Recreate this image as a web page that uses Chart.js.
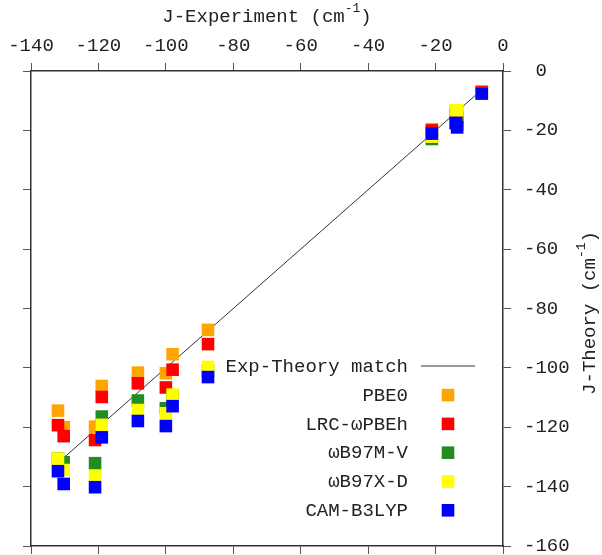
<!DOCTYPE html>
<html>
<head>
<meta charset="utf-8">
<script src="https://cdn.jsdelivr.net/npm/chart.js@4.4.0/dist/chart.umd.min.js"></script>
<style>
  html, body { margin: 0; padding: 0; background: #fff; }
  #wrap { width: 602px; height: 555px; }
</style>
</head>
<body>
<div id="wrap"><canvas id="myChart" width="602" height="555"></canvas></div>
<script>
// experimental couplings (cm-1), one per pair of centres
const expValues = [-132, -130.3, -121, -119, -108.3, -100, -98, -87.5, -21.1, -14, -13.6, -6.3];
// computed couplings, same order as expValues
const pbe0    = [-114.4, -120.0, -119.8, -106.1, -101.6, -101.8, -95.4, -87.2, -19.6, -13.5, -13.5, -6.8];
const lrcPbeh = [-119.3, -123.0, -124.3, -109.8, -105.2, -106.6, -100.6, -92.0, -20.0, -14.5, -15.8, -7.2];
const wb97mv  = [-130.6, -131.8, -132.1, -116.4, -111.0, -113.6, -109.5, -101.0, -22.9, -17.5, -18.0, -7.6];
const wb97xd  = [-130.6, -134.4, -136.4, -119.2, -114.2, -115.3, -109.0, -99.7, -22.1, -13.2, -13.2, -7.6];
const camB3   = [-134.8, -139.1, -140.2, -123.4, -117.9, -119.6, -112.9, -103.1, -21.1, -17.5, -19.0, -7.6];

const methodNames = ["PBE0", "LRC-\u03c9PBEh", "\u03c9B97M-V", "\u03c9B97X-D", "CAM-B3LYP"];
const methodValues = [pbe0, lrcPbeh, wb97mv, wb97xd, camB3];
const methodColors = ["#ffa500", "#ff0000", "#228b22", "#ffff00", "#0000ff"];

const xTickValues = [-140, -120, -100, -80, -60, -40, -20, 0];
const yTickValues = [0, -20, -40, -60, -80, -100, -120, -140, -160];

const FONT = "'Liberation Mono', 'DejaVu Sans Mono', monospace";
const TEXT = "#222";

function points(ys) {
    return expValues.map((x, i) => ({ x: x, y: ys[i] }));
}

const lo = Math.min(...expValues);
const hi = Math.max(...expValues);

const datasets = [{
    label: "Exp-Theory match",
    data: [{ x: lo, y: lo }, { x: hi, y: hi }],
    showLine: true,
    borderColor: "#333",
    borderWidth: 1,
    pointRadius: 0,
    order: 10,
}];
methodNames.forEach((name, i) => {
    datasets.push({
        label: name,
        data: points(methodValues[i]),
        backgroundColor: methodColors[i],
        borderWidth: 0,
        pointStyle: "rect",
        pointRadius: 8.9,
        pointHoverRadius: 8.9,
        order: 5 - i,
    });
});

function drawTitle(ctx, x, y, rot, main, sup, tail) {
    ctx.save();
    ctx.translate(x, y);
    ctx.rotate(rot);
    ctx.fillStyle = TEXT;
    ctx.textBaseline = "middle";
    ctx.textAlign = "left";
    ctx.font = "19px " + FONT;
    const w1 = ctx.measureText(main).width;
    const w3 = ctx.measureText(tail).width;
    ctx.font = "13px " + FONT;
    const w2 = ctx.measureText(sup).width;
    let sx = -(w1 + w2 + w3) / 2;
    ctx.font = "19px " + FONT;
    ctx.fillText(main, sx, 0);
    sx += w1;
    ctx.font = "13px " + FONT;
    ctx.fillText(sup, sx, -8);
    sx += w2;
    ctx.font = "19px " + FONT;
    ctx.fillText(tail, sx, 0);
    ctx.restore();
}

const extras = {
    id: "extras",
    afterDraw(chart) {
        const ctx = chart.ctx;
        drawTitle(ctx, 267, 17, 0, "J-Experiment (cm", "-1", ")");
        drawTitle(ctx, 590, 313, -Math.PI / 2, "J-Theory (cm", "-1", ")");

        // legend, text on the left and sample on the right
        ctx.save();
        ctx.font = "19px " + FONT;
        ctx.textAlign = "right";
        ctx.textBaseline = "middle";
        chart.data.datasets.forEach((ds, i) => {
            const y = 367 + i * 28.8;
            ctx.fillStyle = TEXT;
            ctx.fillText(ds.label, 408, y);
            if (ds.showLine) {
                ctx.strokeStyle = ds.borderColor;
                ctx.lineWidth = 1;
                ctx.beginPath();
                ctx.moveTo(421, y - 1);
                ctx.lineTo(475, y - 1);
                ctx.stroke();
            } else {
                ctx.fillStyle = ds.backgroundColor;
                ctx.fillRect(448 - 6.3, y - 7, 12.6, 12.6);
            }
        });
        ctx.restore();
    }
};

function axis(position, showLabels, ticksArr, size) {
    const horizontal = position === "top" || position === "bottom";
    return {
        type: "linear",
        position: position,
        min: horizontal ? -140 : -160,
        max: 0,
        afterBuildTicks: (scale) => {
            scale.ticks = ticksArr.map(v => ({ value: v }));
        },
        afterFit: (scale) => {
            if (horizontal) scale.height = size;
            else scale.width = size;
            scale.paddingTop = 0;
            scale.paddingBottom = 0;
            scale.paddingLeft = 0;
            scale.paddingRight = 0;
        },
        border: { display: true, color: "#333", width: 1.5 },
        grid: {
            drawOnChartArea: false,
            drawTicks: true,
            tickLength: 8,
            tickColor: "#555",
            tickWidth: 1,
        },
        ticks: {
            display: showLabels,
            color: TEXT,
            font: { family: FONT, size: 19 },
            padding: horizontal ? 6 : 13,
            maxRotation: 0,
            autoSkip: false,
            callback: (v) => (!horizontal && v === 0) ? " 0" : String(v),
        },
    };
}

const ctx = document.getElementById("myChart").getContext("2d");
const myChart = new Chart(ctx, {
    type: "scatter",
    data: { datasets: datasets },
    options: {
        responsive: false,
        animation: false,
        devicePixelRatio: 1,
        layout: { padding: 0 },
        plugins: {
            legend: { display: false },
            tooltip: { enabled: false },
        },
        scales: {
            x: axis("top", true, xTickValues, 71),
            x2: axis("bottom", false, xTickValues, 9),
            y: axis("right", true, yTickValues, 99),
            y2: axis("left", false, yTickValues, 31),
        },
    },
    plugins: [extras],
});
</script>
</body>
</html>
